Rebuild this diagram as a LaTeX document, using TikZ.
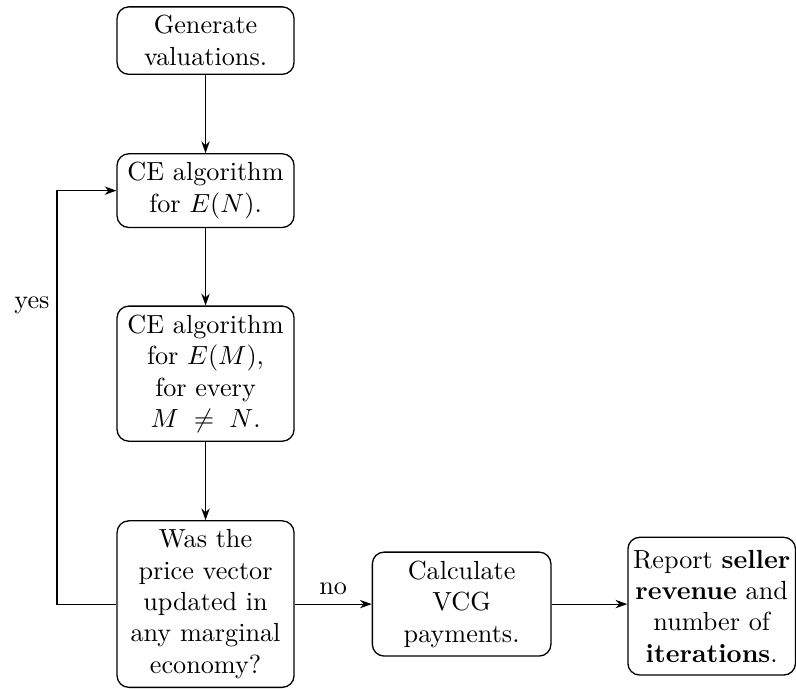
\documentclass[tikz,border=0pt]{standalone}
\usetikzlibrary{arrows.meta}
\begin{document}
\begin{tikzpicture}[x=1pt,y=1pt,
  box/.style={draw, rounded corners=4.5pt, align=center, inner sep=3.3pt, text width=61pt, line width=0.5pt},
  conn/.style={-{Stealth[length=4.5pt,width=3.2pt]}, line width=0.45pt}]
\useasboundingbox (0,0) rectangle (304,-262.8);
\node[box] (gen) at (78.5,-15.5) {Generate valuations.};
\node[box] (ceN) at (78.5,-72.8) {CE algorithm for $E(N)$.};
\node[box] (ceM) at (78.5,-142.7) {CE algorithm for $E(M)$, for every $M\,\neq\,N$.};
\node[box] (was) at (78.5,-230.7) {Was the price vector updated in any marginal economy?};
\node[box, text width=61.6pt, minimum height=39pt] (calc) at (176.3,-230.7) {Calculate VCG payments.};
\node[box, text width=60pt, inner xsep=2pt, inner ysep=4.8pt] (rep) at (271.8,-231.5) {Report \textbf{seller} \textbf{revenue} and number of \textbf{iterations}.};
\coordinate (lb) at (21.8,-230.7);
\coordinate (lt) at (21.8,-72.8);
\draw[conn] (gen) -- (ceN);
\draw[conn] (ceN) -- (ceM);
\draw[conn] (ceM) -- (was);
\draw[conn] (was) -- node[above] (no) {no} (calc);
\draw[conn] (calc.east) -- (calc.east -| rep.west);
\draw[conn] (was.west) -- (lb) -- (lt) -- (ceN.west);
\node (yes) at (12.2,-116.5) {yes};
\end{tikzpicture}
\end{document}
